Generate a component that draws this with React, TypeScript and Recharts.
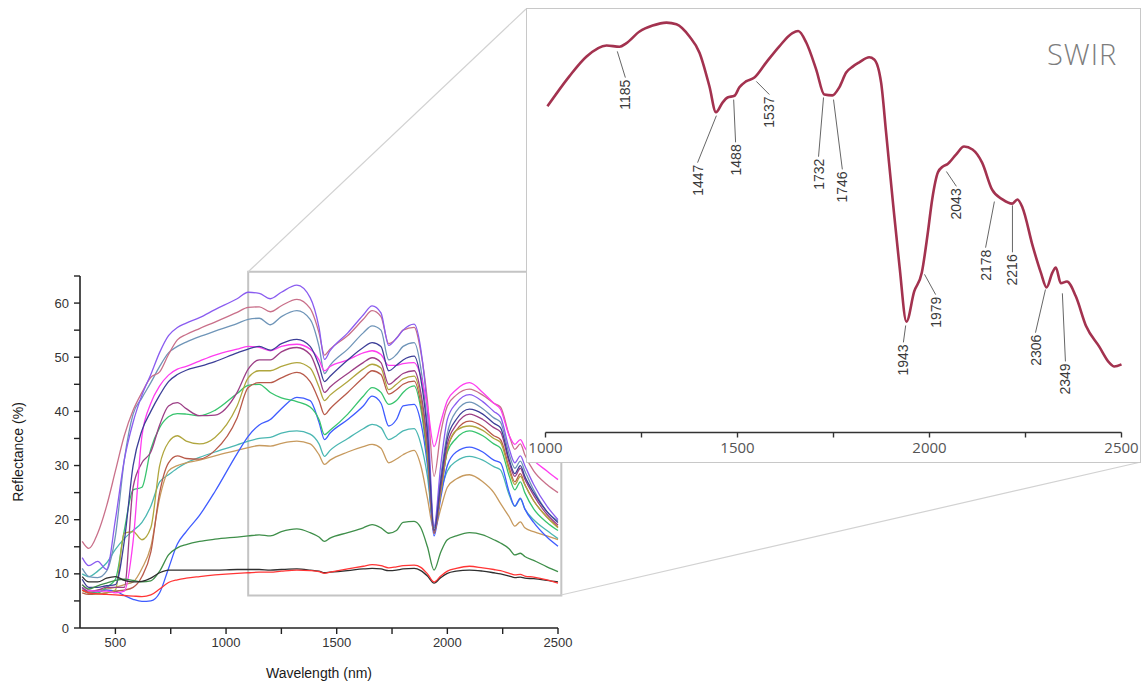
import {
  LineChart,
  ComposedChart,
  Line,
  XAxis,
  YAxis,
  ReferenceArea,
  ReferenceLine,
  ReferenceDot,
} from "recharts";

// wavelength grid (nm) shared by all spectra of the left panel
const wavelengths = [
  350, 380, 420, 460, 500, 540, 580, 620, 660, 700, 740, 780, 820, 880, 950, 1050, 1100, 1150, 1200, 1250,
  1320, 1380, 1420, 1445, 1470, 1550, 1620, 1660, 1700, 1735, 1770, 1800, 1850, 1880, 1910, 1940, 1970, 2000,
  2040, 2100, 2160, 2210, 2240, 2280, 2305, 2330, 2350, 2390, 2450, 2500,
];

const violet = [13, 11.5, 12.3, 10.8, 20, 31, 38, 43, 46.8, 50.9, 54, 55.5, 56.3, 57.3, 58.8, 60.8, 62, 61.8, 60.8, 62, 63.3, 61, 55.5, 49.6, 51.2, 54.5, 57.8, 59.5, 58.2, 52.2, 53.5, 55, 56.1, 51.5, 40, 18.8, 30, 38.5, 41.5, 43.1, 41.8, 40, 39, 33, 30.5, 31.8, 30, 26.5, 22.5, 20];
const rose = [16, 14.7, 17.5, 22.5, 29, 35.5, 40.2, 43.5, 46.3, 47.3, 50.5, 53.2, 54.2, 55.3, 56.5, 58.3, 59.2, 59.3, 58.4, 59.5, 60.7, 59, 54.5, 50.4, 51.5, 54, 57, 58.6, 57.5, 52.5, 53.5, 55, 55.5, 51, 42, 28, 36, 41, 43, 44.1, 43, 41.5, 40.8, 35.5, 33, 34, 32, 29, 26.5, 25];
const steel = [11, 9.5, 9.3, 10.5, 17, 31, 39.5, 42.5, 45.3, 48.3, 50.8, 52, 52.8, 53.8, 54.8, 56.2, 57, 57.2, 56, 57.5, 58.6, 57, 52, 47, 48.5, 51.5, 54.5, 55.8, 55, 49.5, 50.5, 52, 52.7, 48, 37, 18.5, 28, 36, 40, 41.7, 40.5, 38.8, 38, 32, 29.5, 30.8, 29, 25.5, 21.5, 19.8];
const navy = [9, 7.5, 7.5, 7.8, 8, 16, 30, 36.5, 40, 43, 45.5, 46.8, 47.6, 48.3, 49.2, 50.8, 51.5, 52, 51.3, 52.5, 53.3, 52, 48.5, 45.5, 46.5, 49.5, 51.8, 52.7, 52, 47.5, 48.5, 49.5, 50.2, 46, 36, 18, 27, 35, 38.5, 40.4, 39.5, 37.8, 37, 31, 28.5, 30, 28, 25, 21.5, 19.5];
const magenta = [8, 7, 6.8, 6.8, 6.5, 6.8, 16, 35.5, 41.5, 44.7, 46.7, 47.8, 48.3, 49.3, 50.4, 51.5, 52, 51.8, 51.2, 52, 52.4, 51.5, 49.5, 47.5, 48.3, 49.5, 50.8, 51.2, 50.5, 48.5, 48.5, 48.8, 49, 46.5, 41, 33.5, 38, 42, 44, 45.3, 43.5, 41.5, 40.4, 35.5, 33.9, 34.8, 33.3, 31, 29, 27.4];
const purple = [7.5, 6.8, 7, 7.5, 7.5, 7.5, 26, 30.5, 32.5, 37.5, 41, 41.6, 40.5, 39.2, 39.3, 43.5, 47.8, 49.5, 49.5, 51, 51.8, 50.5, 46.5, 43.5, 44.5, 47, 49, 49.9, 49, 45, 46, 47, 47.5, 43.5, 34, 17.5, 26, 34, 37.5, 39.5, 38.5, 37, 36.2, 30.5, 28, 29.5, 27.5, 24.5, 21, 19];
const olive = [7, 6.5, 6.3, 6.5, 7, 17.5, 17.8, 16.3, 18.5, 30, 34.3, 35.5, 34.5, 34, 35.2, 41, 46.2, 47.5, 47.5, 48.3, 49, 48, 44.5, 42, 43, 45.5, 47.8, 48.7, 48, 44, 45, 46, 46.5, 42.5, 33, 17.5, 25, 33, 36.5, 37.3, 36.5, 35, 34.3, 29, 26.5, 28, 26.5, 23.5, 20.5, 18.5];
const brownRed = [6.5, 6.2, 6.3, 6.5, 6.8, 7, 7.5, 9.5, 14, 25, 30.5, 31.8, 31.3, 31.2, 32.8, 38.8, 44.4, 45.3, 45.3, 46.2, 47.2, 45.5, 42, 39.4, 40.5, 43.5, 46.2, 47.5, 46.8, 43.2, 44, 45, 45.6, 41.5, 32, 17.5, 25, 33, 36.5, 38.2, 37.2, 35.5, 34.8, 29.5, 27, 28.5, 26.5, 23.5, 20.5, 18.7];
const green = [7, 6.5, 6.5, 7.5, 9, 18, 25.5, 26, 33, 37, 39, 39.6, 39.5, 39.2, 40.2, 43.3, 44.8, 45, 43.5, 42.5, 41.8, 40.8, 38.5, 35.7, 36.5, 39.5, 42.8, 44.4, 43.5, 41.3, 42, 43.5, 44.7, 40.5, 31, 17.8, 25, 32.5, 35, 36.4, 35.5, 34, 33.2, 28, 25.5, 27, 25, 22, 19.5, 18];
const blue = [7.5, 6.5, 6.7, 7, 6.8, 6, 5.3, 4.9, 5, 6.5, 11, 15.5, 17.8, 20.8, 25.2, 32.2, 35.4, 37.5, 38.5, 40.5, 42.6, 42, 38, 34.8, 36, 38.5, 41, 42.8, 41.5, 37.3, 38.5, 41, 41.3, 38, 30, 17, 24, 30, 32.5, 33.4, 32.5, 31, 30.5, 25, 22.5, 24, 22, 19.5, 16.8, 15.1];
const teal = [10, 9.5, 10.5, 12, 14.5, 16.5, 18, 19.5, 22.5, 27, 28.3, 29.5, 30.5, 31.5, 32.5, 33.8, 34.5, 35, 35.2, 36, 36.4, 35.8, 34, 31.7, 32.8, 35, 36.8, 37.6, 37, 34.8, 35.5, 36.4, 36.8, 34, 28, 18.5, 25, 29, 30.8, 31.7, 31, 29.8, 29.2, 24.5, 22.5, 23.8, 22, 20, 18, 16.5];
const tan = [7, 6.5, 7, 7.2, 7.5, 8, 8.5, 11, 15, 24, 29, 30, 30.5, 31, 31.8, 32.8, 33.3, 33.7, 33.6, 34.1, 34.5, 34, 32, 30.2, 31, 32.5, 33.5, 33.9, 33.2, 30.5, 31.2, 32, 32.8, 30, 24, 18, 22, 26, 27.5, 28.3, 27, 25, 23, 20.5, 18.8, 19.6, 18.5, 17.8, 17, 16.3];
const darkGreen = [8, 7.2, 7.8, 8.3, 8.8, 9, 8.8, 8.5, 8.7, 10.5, 13.5, 14.8, 15.4, 16, 16.4, 16.8, 17, 17.2, 17, 17.8, 18.3, 17.6, 16.8, 16, 16.6, 17.6, 18.5, 19.1, 18.5, 17.5, 18, 19.5, 19.7, 18.5, 15, 10.7, 14, 16.3, 17, 17.6, 17.2, 16.3, 15.7, 14.6, 13.5, 13.8, 13.2, 12.5, 11.3, 10.4];
const black = [9.5, 8.5, 8.5, 9.2, 9.5, 8.8, 8.5, 8.6, 9.2, 10.2, 10.7, 10.7, 10.7, 10.7, 10.7, 10.8, 10.8, 10.8, 10.7, 10.8, 10.9, 10.7, 10.5, 10.2, 10.3, 10.6, 10.9, 11, 10.9, 10.6, 10.7, 10.9, 11, 10.6, 9.6, 8.3, 9.3, 10.1, 10.5, 10.7, 10.5, 10.2, 10, 9.6, 9.3, 9.4, 9.2, 9.1, 8.8, 8.5];
const red = [7, 6.5, 6.3, 6.2, 6.1, 6, 5.9, 5.8, 6.1, 7.2, 8.4, 8.9, 9.2, 9.5, 9.8, 10.1, 10.2, 10.3, 10.3, 10.5, 10.7, 10.6, 10.4, 10.1, 10.3, 10.9, 11.4, 11.7, 11.5, 11.1, 11.3, 11.5, 11.6, 11.2, 10, 8.5, 9.6, 10.5, 11, 11.4, 11.1, 10.8, 10.6, 10.1, 9.8, 9.9, 9.6, 9.4, 8.9, 8.3];

const spectra: Record<string, number[]> = {
  teal, tan, blue, green, brownRed, olive, purple, steel, rose, violet, magenta, navy, darkGreen, black, red,
};

const colors: Record<string, string> = {
  violet: "#8a5cf0",
  rose: "#c9708a",
  steel: "#6f95b8",
  navy: "#3d3f98",
  magenta: "#ff3cf0",
  purple: "#9c3f86",
  olive: "#b0a63e",
  brownRed: "#b85a4a",
  green: "#38c46e",
  blue: "#3f5cff",
  teal: "#4bb7b2",
  tan: "#c79a5e",
  darkGreen: "#3f8f4a",
  black: "#2f2f2f",
  red: "#ff3535",
};

const leftXTicks = [500, 750, 1000, 1250, 1500, 1750, 2000, 2250, 2500];
const leftYTicks = [0, 5, 10, 15, 20, 25, 30, 35, 40, 45, 50, 55, 60, 65];

// SWIR inset: one spectrum, relative scale (no y axis shown)
const swirNm = [1005, 1062, 1107, 1159, 1193, 1210, 1245, 1279, 1315, 1341, 1375, 1401, 1427, 1444, 1461, 1474, 1492, 1505, 1522, 1544, 1575, 1609, 1643, 1658, 1679, 1705, 1726, 1747, 1765, 1783, 1800, 1817, 1843, 1856, 1874, 1887, 1904, 1922, 1940, 1960, 1980, 1995, 2007, 2022, 2035, 2046, 2069, 2090, 2112, 2137, 2163, 2190, 2215, 2229, 2242, 2269, 2290, 2305, 2320, 2329, 2342, 2358, 2381, 2408, 2442, 2468, 2481, 2500];
const swirVal = [77.1, 84.2, 88.9, 91.5, 91.2, 92.0, 94.8, 96.2, 96.9, 96.5, 93.6, 89.8, 81.8, 75.7, 78.0, 79.2, 79.6, 81.6, 83.0, 83.9, 87.5, 91.3, 94.4, 94.9, 92.2, 85.8, 79.9, 79.7, 81.6, 85.1, 86.5, 87.5, 88.7, 88.2, 82.7, 70.9, 55.1, 39.2, 26.2, 33.3, 37.8, 46.8, 55.1, 61.5, 62.9, 63.4, 65.7, 67.6, 66.9, 63.8, 57.4, 55.1, 54.1, 55.1, 53.2, 44.0, 37.8, 34.3, 37.8, 39.0, 35.3, 35.7, 32.2, 25.1, 20.3, 16.5, 15.6, 16.1];
const swirTicks = [1000, 1250, 1500, 1750, 2000, 2250, 2500];

// absorption features: label, point near curve, leader end
const features = [
  { label: "1185", x1: 1187, y1: 90.1, x2: 1208, y2: 83.9 },
  { label: "1447", x1: 1445, y1: 74.9, x2: 1396, y2: 63.8 },
  { label: "1488", x1: 1490, y1: 78.7, x2: 1495, y2: 68.6 },
  { label: "1537", x1: 1549, y1: 83.0, x2: 1583, y2: 79.9 },
  { label: "1732", x1: 1724, y1: 79.2, x2: 1711, y2: 65.2 },
  { label: "1746", x1: 1750, y1: 78.7, x2: 1773, y2: 62.2 },
  { label: "1943", x1: 1938, y1: 25.3, x2: 1932, y2: 21.3 },
  { label: "1979", x1: 1987, y1: 37.4, x2: 2016, y2: 32.6 },
  { label: "2043", x1: 2044, y1: 61.7, x2: 2070, y2: 58.2 },
  { label: "2178", x1: 2169, y1: 54.6, x2: 2146, y2: 43.7 },
  { label: "2216", x1: 2216, y1: 53.7, x2: 2216, y2: 42.6 },
  { label: "2306", x1: 2302, y1: 33.8, x2: 2276, y2: 23.6 },
  { label: "2349", x1: 2346, y1: 32.9, x2: 2354, y2: 16.8 },
];

const leftData = wavelengths.map((nm, i) => {
  const row: Record<string, number> = { nm };
  Object.keys(spectra).forEach((k) => {
    row[k] = spectra[k][i];
  });
  return row;
});

const swirData = swirNm.map((nm, i) => ({ nm, v: swirVal[i] }));

const sans = "'Liberation Sans', Arial, sans-serif";
const openSans = "'Open Sans', 'Liberation Sans', sans-serif";

export default function App() {
  return (
    <div style={{ position: "absolute", left: 0, top: 0, width: 1142, height: 684, background: "#fff" }}>
      <div style={{ position: "absolute", left: 0, top: 0 }}>
        <LineChart width={580} height={684} data={leftData} margin={{ top: 276, right: 22, left: 0, bottom: 0 }}>
          <XAxis
            dataKey="nm"
            type="number"
            domain={[340, 2500]}
            ticks={leftXTicks}
            tickFormatter={(v: number) => (v % 500 === 0 ? String(v) : "")}
            tickSize={6}
            tickMargin={4}
            height={56}
            axisLine={{ stroke: "#222", strokeWidth: 1.6 }}
            tickLine={{ stroke: "#222", strokeWidth: 1.4 }}
            tick={{ fontSize: 13, fill: "#333", fontFamily: sans }}
            label={{ value: "Wavelength (nm)", position: "insideBottom", offset: 6, style: { fontSize: 14, fill: "#1a1a1a", fontFamily: sans } }}
          />
          <YAxis
            type="number"
            domain={[0, 65]}
            ticks={leftYTicks}
            tickFormatter={(v: number) => (v % 10 === 0 ? String(v) : "")}
            width={80}
            tickSize={6}
            tickMargin={5}
            axisLine={{ stroke: "#222", strokeWidth: 1.6 }}
            tickLine={{ stroke: "#222", strokeWidth: 1.4 }}
            tick={{ fontSize: 13, fill: "#333", fontFamily: sans }}
            label={{
              content: (props: any) => {
                const vb = props.viewBox || { x: 0, y: 276, height: 352 };
                const cx = vb.x + 18;
                const cy = vb.y + vb.height / 2;
                return (
                  <text
                    x={cx}
                    y={cy}
                    transform={`rotate(-90 ${cx} ${cy})`}
                    textAnchor="middle"
                    dominantBaseline="central"
                    fontSize={14}
                    fill="#1a1a1a"
                    fontFamily={sans}
                  >
                    Reflectance (%)
                  </text>
                );
              },
            }}
          />
          <ReferenceArea x1={1100} x2={2515} y1={6} y2={65.8} ifOverflow="visible" fill="none" stroke="#c4c4c4" strokeWidth={2} />
          {Object.keys(spectra).map((k) => (
            <Line
              key={k}
              type="monotone"
              dataKey={k}
              stroke={colors[k]}
              strokeWidth={1.3}
              dot={false}
              isAnimationActive={false}
            />
          ))}
        </LineChart>
      </div>

      <svg width={1142} height={684} style={{ position: "absolute", left: 0, top: 0, pointerEvents: "none" }}>
        <line x1={248} y1={272} x2={526} y2={9} stroke="#d2d2d2" strokeWidth={1.2} />
        <line x1={561} y1={595} x2={1141} y2={462} stroke="#d2d2d2" strokeWidth={1.2} />
      </svg>

      <div
        style={{
          position: "absolute",
          left: 526,
          top: 8,
          width: 615,
          height: 455,
          border: "1.5px solid #c8c8c8",
          background: "#fff",
          boxSizing: "border-box",
        }}
      >
        <ComposedChart width={612} height={452} data={swirData} margin={{ top: 0.5, right: 17.5, left: 18.5, bottom: 0 }}>
          <XAxis
            dataKey="nm"
            type="number"
            domain={[1000, 2500]}
            ticks={swirTicks}
            tickFormatter={(v: number) => (v % 500 === 0 ? String(v) : "")}
            height={28.5}
            tickSize={5}
            tickMargin={5}
            axisLine={{ stroke: "#333", strokeWidth: 1.6 }}
            tickLine={{ stroke: "#333", strokeWidth: 1.4 }}
            tick={{ fontSize: 15, fill: "#555", fontFamily: openSans }}
          />
          <YAxis hide type="number" domain={[0, 100]} />
          <Line
            type="monotone"
            dataKey="v"
            stroke="#a3324f"
            strokeWidth={2.6}
            dot={false}
            isAnimationActive={false}
          />
          {features.map((f) => (
            <ReferenceLine
              key={"lead" + f.label}
              segment={[
                { x: f.x1, y: f.y1 },
                { x: f.x2, y: f.y2 },
              ]}
              stroke="#666"
              strokeWidth={1}
              ifOverflow="visible"
            />
          ))}
          {features.map((f) => (
            <ReferenceDot
              key={"lab" + f.label}
              x={f.x2}
              y={f.y2}
              r={1}
              ifOverflow="visible"
              shape={(p: any) => (
                <text
                  x={p.cx}
                  y={p.cy}
                  transform={`rotate(-90 ${p.cx} ${p.cy})`}
                  textAnchor="end"
                  dx={-2}
                  dy="0.36em"
                  fontSize={14}
                  fill="#3a3a3a"
                  fontFamily={sans}
                >
                  {f.label}
                </text>
              )}
            />
          ))}
        </ComposedChart>
        <div
          style={{
            position: "absolute",
            left: 520,
            top: 30,
            fontFamily: openSans,
            fontWeight: 300,
            fontSize: 29,
            lineHeight: "29px",
            color: "#7c7c7c",
            letterSpacing: 1,
          }}
        >
          SWIR
        </div>
      </div>
    </div>
  );
}
